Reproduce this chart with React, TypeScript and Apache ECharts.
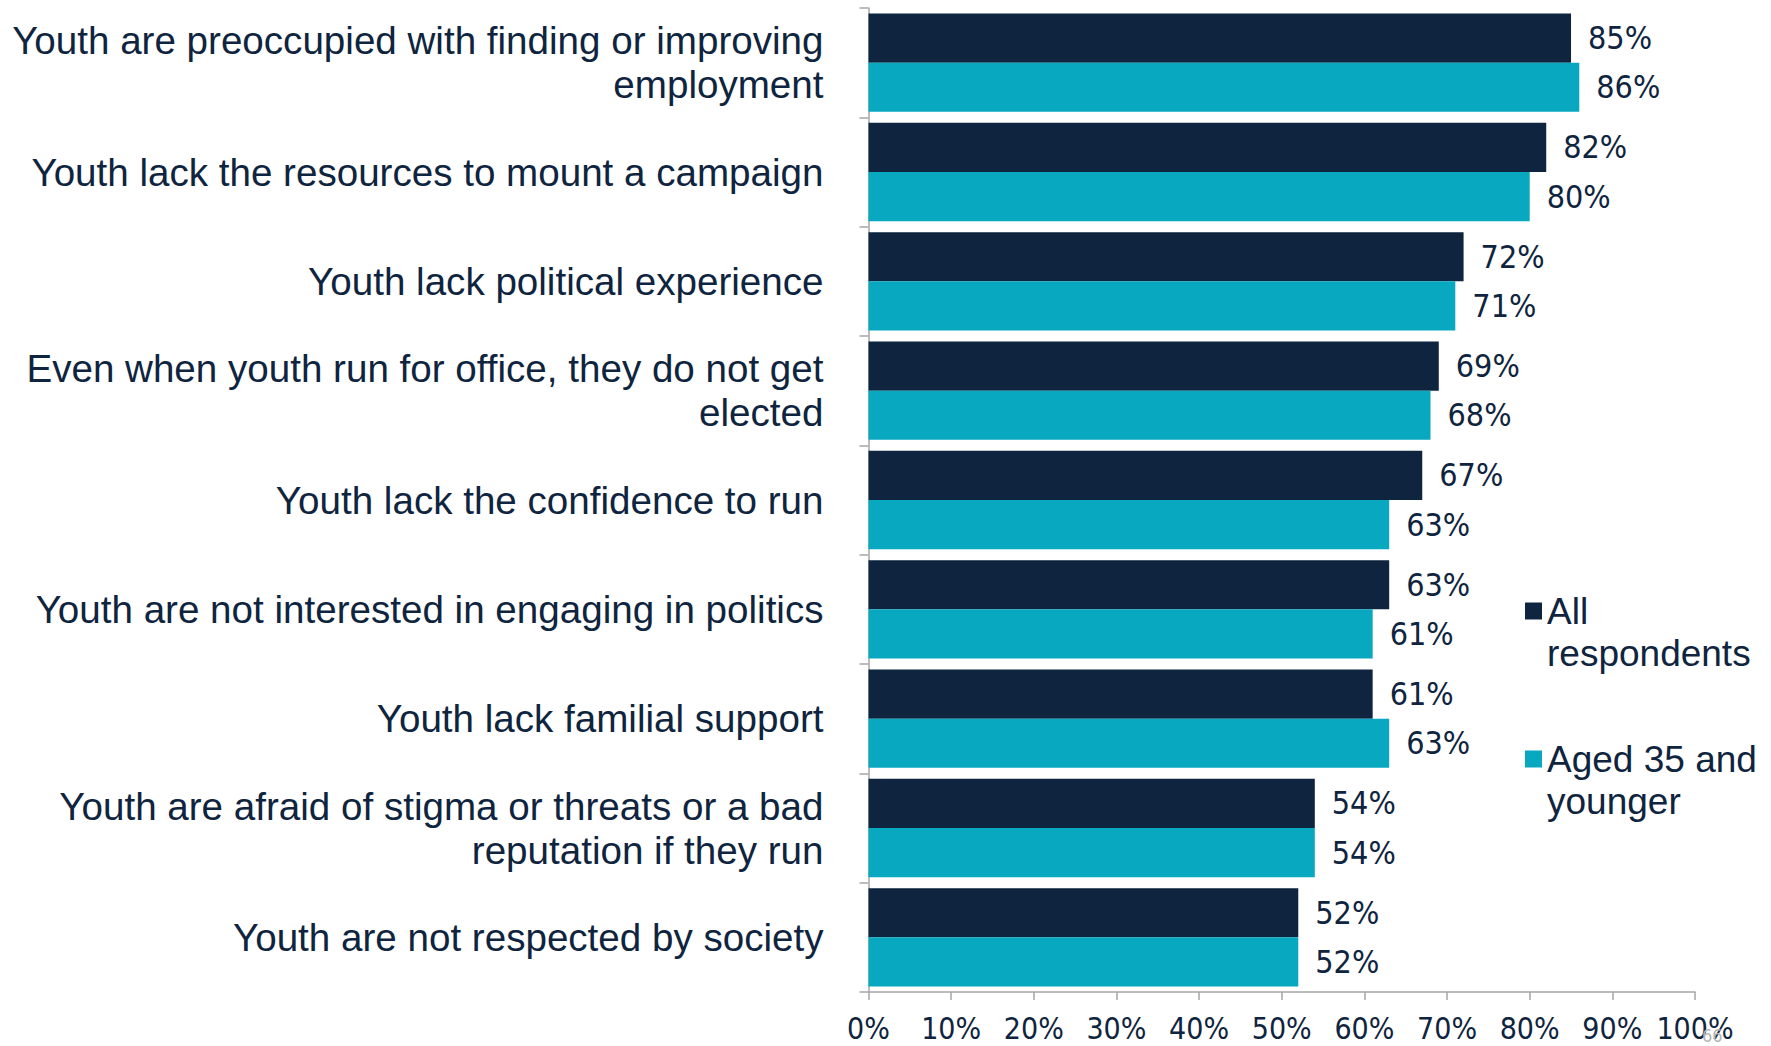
import React, { useEffect, useRef } from "react";
import * as echarts from "echarts";

const categories: string[] = [
  "Youth are preoccupied with finding or improving\nemployment",
  "Youth lack the resources to mount a campaign",
  "Youth lack political experience",
  "Even when youth run for office, they do not get\nelected",
  "Youth lack the confidence to run",
  "Youth are not interested in engaging in politics",
  "Youth lack familial support",
  "Youth are afraid of stigma or threats or a bad\nreputation if they run",
  "Youth are not respected by society",
];

const allRespondents: number[] = [85, 82, 72, 69, 67, 63, 61, 54, 52];
const aged35AndYounger: number[] = [86, 80, 71, 68, 63, 61, 63, 54, 52];

const seriesNames: string[] = ["All respondents", "Aged 35 and younger"];
const legendLines: string[][] = [
  ["All", "respondents"],
  ["Aged 35 and", "younger"],
];
const xTicks: number[] = [0, 10, 20, 30, 40, 50, 60, 70, 80, 90, 100];
const pageNumber = "66";

const NAVY = "#0f243e";
const CYAN = "#08a8c0";
const GREY = "#a6a6a6";
const NARROW = "'DejaVu Sans Condensed', 'Liberation Sans Narrow', sans-serif";
const SANS = "'Liberation Sans', Arial, sans-serif";

export default function App() {
  const ref = useRef<HTMLDivElement>(null);

  useEffect(() => {
    if (!ref.current) return;
    const chart = echarts.init(ref.current, undefined, { renderer: "svg" });

    const legendBase = {
      orient: "vertical" as const,
      left: 1525,
      padding: 0,
      icon: "rect",
      itemWidth: 17,
      itemHeight: 17,
      itemGap: 10,
      formatter: (name: string) => {
        const idx = seriesNames.indexOf(name);
        const lines = idx >= 0 ? legendLines[idx] : [name];
        return " \n" + lines.join("\n");
      },
      textStyle: {
        fontFamily: SANS,
        fontSize: 37,
        lineHeight: 42,
        color: NAVY,
      },
    };

    chart.setOption({
      animation: false,
      backgroundColor: "#ffffff",
      grid: {
        left: 868.5,
        right: 76,
        top: 8,
        bottom: 54,
        containLabel: false,
      },
      legend: [
        { ...legendBase, top: 611 - 63, data: [seriesNames[0]] },
        { ...legendBase, top: 759 - 63, data: [seriesNames[1]] },
      ],
      xAxis: {
        type: "value",
        min: xTicks[0],
        max: xTicks[xTicks.length - 1],
        interval: xTicks[1] - xTicks[0],
        axisLine: { show: true, lineStyle: { color: GREY, width: 1.5 } },
        axisTick: { show: true, length: 8, lineStyle: { color: GREY, width: 1.5 } },
        splitLine: { show: false },
        axisLabel: {
          formatter: "{value}%",
          fontFamily: NARROW,
          fontSize: 30,
          lineHeight: 28,
          color: NAVY,
          margin: 22,
        },
      },
      yAxis: {
        type: "category",
        data: categories,
        inverse: true,
        axisLine: { show: true, lineStyle: { color: GREY, width: 1.5 } },
        axisTick: { show: true, length: 9, lineStyle: { color: GREY, width: 1.5 } },
        axisLabel: {
          fontFamily: SANS,
          fontSize: 38.6,
          lineHeight: 44,
          color: NAVY,
          margin: 45,
        },
      },
      series: [
        {
          name: seriesNames[0],
          type: "bar",
          data: allRespondents,
          barGap: "0%",
          barCategoryGap: "10%",
          itemStyle: { color: NAVY },
          label: {
            show: true,
            position: "right",
            distance: 17,
            formatter: "{c}%",
            fontFamily: NARROW,
            fontSize: 32,
            color: NAVY,
          },
        },
        {
          name: seriesNames[1],
          type: "bar",
          data: aged35AndYounger,
          barGap: "0%",
          barCategoryGap: "10%",
          itemStyle: { color: CYAN },
          label: {
            show: true,
            position: "right",
            distance: 17,
            formatter: "{c}%",
            fontFamily: NARROW,
            fontSize: 32,
            color: NAVY,
          },
        },
      ],
      graphic: [
        {
          type: "text",
          left: 1702,
          top: 1026,
          z: 100,
          style: {
            text: pageNumber,
            fontFamily: NARROW,
            fontSize: 18,
            fill: "#b4b4b4",
          },
        },
      ],
    });

    return () => chart.dispose();
  }, []);

  return (
    <div
      ref={ref}
      style={{ position: "fixed", left: 0, top: 0, width: 1771, height: 1046 }}
    />
  );
}
